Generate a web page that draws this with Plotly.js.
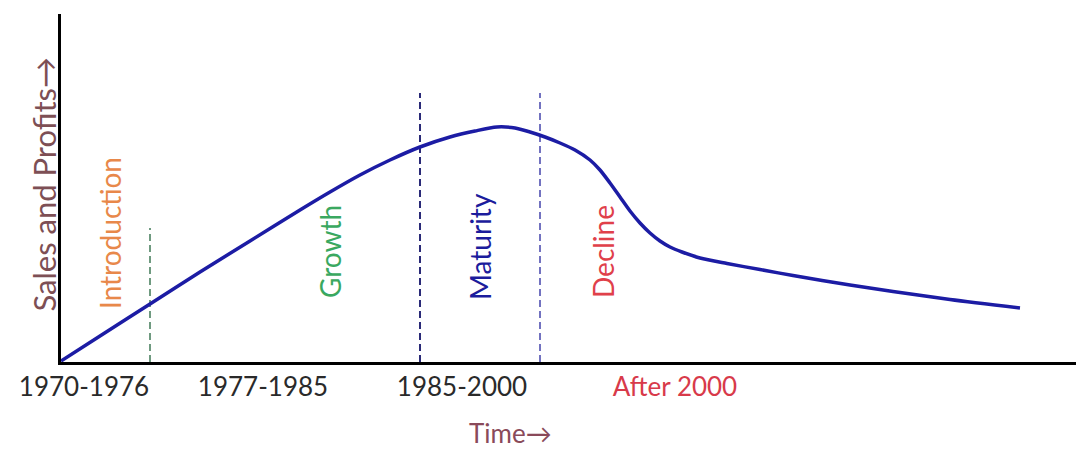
<!DOCTYPE html>
<html>
<head>
<meta charset="utf-8">
<script src="https://cdn.plot.ly/plotly-3.0.1.min.js"></script>
<style>html,body{margin:0;padding:0;background:#fff;}#chart{width:1076px;height:450px;}</style>
</head>
<body>
<div id="chart"></div>
<script>
// Product life cycle curve (time units, sales & profits units)
const timeX = [0, 39, 89, 139, 189, 239, 269, 299, 329, 359, 389, 414, 436, 454, 469, 484, 499, 514, 529, 539, 549, 559, 569, 579, 589, 599, 609, 621, 639, 666, 699, 732, 789, 832, 889, 959];
const salesY = [1, 26, 58, 90, 121, 152, 170, 187, 202, 215, 225, 231, 235, 234, 230, 225, 219, 212, 202, 192, 179, 165, 151, 139, 129, 121, 115, 110, 104, 98.5, 92.5, 86.5, 77, 70.5, 62.5, 54];

// Phase boundaries (dashed)
const boundaryX = [89, 359, 479];
const boundaryTop = [134, 269, 269];
const boundaryColors = ['#6f9a80', '#2a2a78', '#7272c0'];

// Phase names
const phaseNames = ['Introduction', 'Growth', 'Maturity', 'Decline'];
const phaseX = [49, 269, 419, 542];
const phaseY = [129, 110, 115, 110];
const phaseColors = ['#e8884a', '#3aa860', '#1c1c9c', '#e0404a'];

// Period tick labels
const periodTicks = [23, 202, 401, 614];
const periodLabels = ['1970-1976', '1977-1985', '1985-2000', 'After 2000'];
const periodColors = ['#2a2a2a', '#2a2a2a', '#2a2a2a', '#d83a4a'];

const traces = [];
boundaryX.forEach((bx, i) => {
  traces.push({
    x: [bx, bx], y: [0, boundaryTop[i]], mode: 'lines', type: 'scatter',
    line: {color: boundaryColors[i], width: 2, dash: '7px,4px'},
    hoverinfo: 'skip', showlegend: false
  });
});
traces.push({
  x: timeX, y: salesY, mode: 'lines', type: 'scatter',
  line: {color: '#1c1ca4', width: 3.5, shape: 'spline', smoothing: 0.8},
  showlegend: false
});

const annotations = phaseNames.map((t, i) => ({
  text: t, x: phaseX[i], y: phaseY[i], xref: 'x', yref: 'y',
  textangle: -90, showarrow: false,
  font: {family: 'Lato, sans-serif', size: 28, color: phaseColors[i]}
}));
annotations.push({
  text: 'Sales and Profits→', xref: 'paper', yref: 'paper',
  x: -0.0384, y: 0.51, textangle: -90, showarrow: false,
  font: {family: 'Lato, sans-serif', size: 31, color: '#7d4f55'}
});
annotations.push({
  text: 'Time→', xref: 'paper', yref: 'paper',
  x: (510 - 61) / 1015, y: -(451 - 362) / 348, yanchor: 'bottom', showarrow: false,
  font: {family: 'Lato, sans-serif', size: 26, color: '#8a4a5a'}
});

const layout = {
  width: 1076, height: 450,
  margin: {l: 61, r: 0, t: 14, b: 88},
  paper_bgcolor: '#ffffff', plot_bgcolor: '#ffffff',
  xaxis: {
    range: [0, 1015], showgrid: false, zeroline: false,
    showline: true, linecolor: '#000', linewidth: 3,
    tickvals: periodTicks,
    ticktext: periodLabels.map((l, i) => '<span style="color:' + periodColors[i] + '">' + l + '</span>'),
    ticks: '', ticklen: 0,
    tickfont: {family: 'Lato, sans-serif', size: 26, color: '#2a2a2a'}
  },
  yaxis: {
    range: [0, 348], showgrid: false, zeroline: false,
    showline: true, linecolor: '#000', linewidth: 3,
    showticklabels: false, ticks: ''
  },
  annotations: annotations,
  showlegend: false
};

Plotly.newPlot('chart', traces, layout, {displayModeBar: false, staticPlot: true});
</script>
</body>
</html>
